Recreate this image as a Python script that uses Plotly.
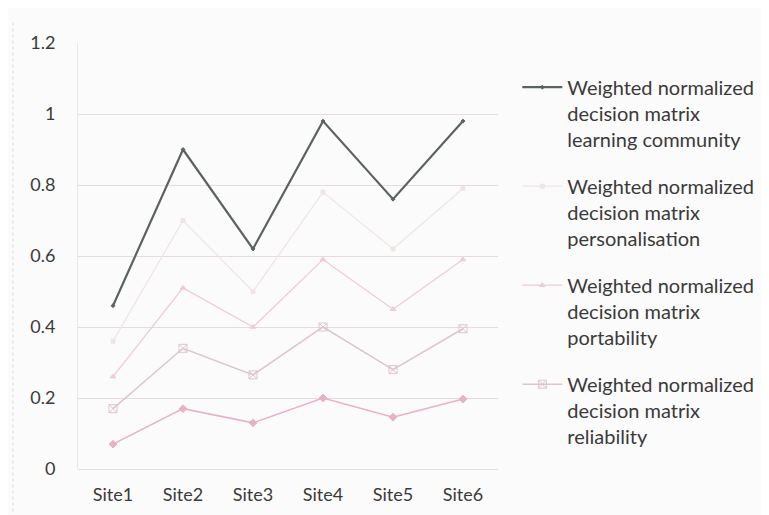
import plotly.graph_objects as go

sites = ["Site1", "Site2", "Site3", "Site4", "Site5", "Site6"]

learning_community = [0.46, 0.90, 0.62, 0.98, 0.76, 0.98]
personalisation = [0.36, 0.70, 0.50, 0.78, 0.62, 0.79]
portability = [0.26, 0.51, 0.40, 0.59, 0.45, 0.59]
reliability = [0.17, 0.34, 0.265, 0.40, 0.28, 0.395]
fifth_series = [0.07, 0.17, 0.13, 0.20, 0.146, 0.197]

names = [
    "Weighted normalized<br>decision matrix<br>learning community",
    "Weighted normalized<br>decision matrix<br>personalisation",
    "Weighted normalized<br>decision matrix<br>portability",
    "Weighted normalized<br>decision matrix<br>reliability",
    "Weighted normalized<br>decision matrix",
]
series = [learning_community, personalisation, portability, reliability, fifth_series]
colors = ["#5b6361", "#efe6e3", "#f0cbd3", "#dcc6cc", "#e8b1c4"]
widths = [2.2, 1.3, 1.3, 1.5, 1.6]
symbols = ["diamond", "square", "triangle-up", "square-x-open", "diamond"]
msizes = [3, 4, 5, 8, 6]
show = [True, True, True, True, False]

fig = go.Figure()
for i, (nm, ys) in enumerate(zip(names, series)):
    fig.add_trace(go.Scatter(
        x=sites, y=ys, name=nm, mode="lines+markers",
        line=dict(color=colors[i], width=widths[i]),
        marker=dict(symbol=symbols[i], size=msizes[i], color=colors[i],
                    line=dict(color=colors[i], width=1)),
        showlegend=show[i], legendgroup="g%d" % i,
    ))

fig.update_layout(
    width=769, height=515,
    margin=dict(l=70, r=279, t=35, b=54),
    paper_bgcolor="#fcfbfb", plot_bgcolor="#fcfbfb",
    font=dict(family="Lato, Carlito, sans-serif", color="#3a3a3a", size=18),
    legend=dict(x=1.046, y=0.942, xanchor="left", yanchor="top",
                font=dict(size=20, color="#3a3a3a"), valign="top",
                tracegroupgap=18, itemwidth=40, bgcolor="rgba(0,0,0,0)"),
    xaxis=dict(range=[-0.5, 5.5], showgrid=False, zeroline=False,
               showline=False, ticks="", ticklabelstandoff=13,
               tickfont=dict(size=18)),
    yaxis=dict(range=[0, 1.2], dtick=0.2, showgrid=True,
               gridcolor="#e6dcdf", gridwidth=1, zeroline=True,
               zerolinecolor="#e6dcdf", zerolinewidth=1,
               showline=True, linecolor="#ece6e8", ticks="",
               ticklabelstandoff=18, tickfont=dict(size=18)),
)
fig.add_shape(type="line", xref="paper", yref="paper", x0=-0.155, x1=-0.155,
              y0=-0.1, y1=1.05, line=dict(color="#dcd6d8", width=1, dash="dot"))

fig.write_html("out.html")
